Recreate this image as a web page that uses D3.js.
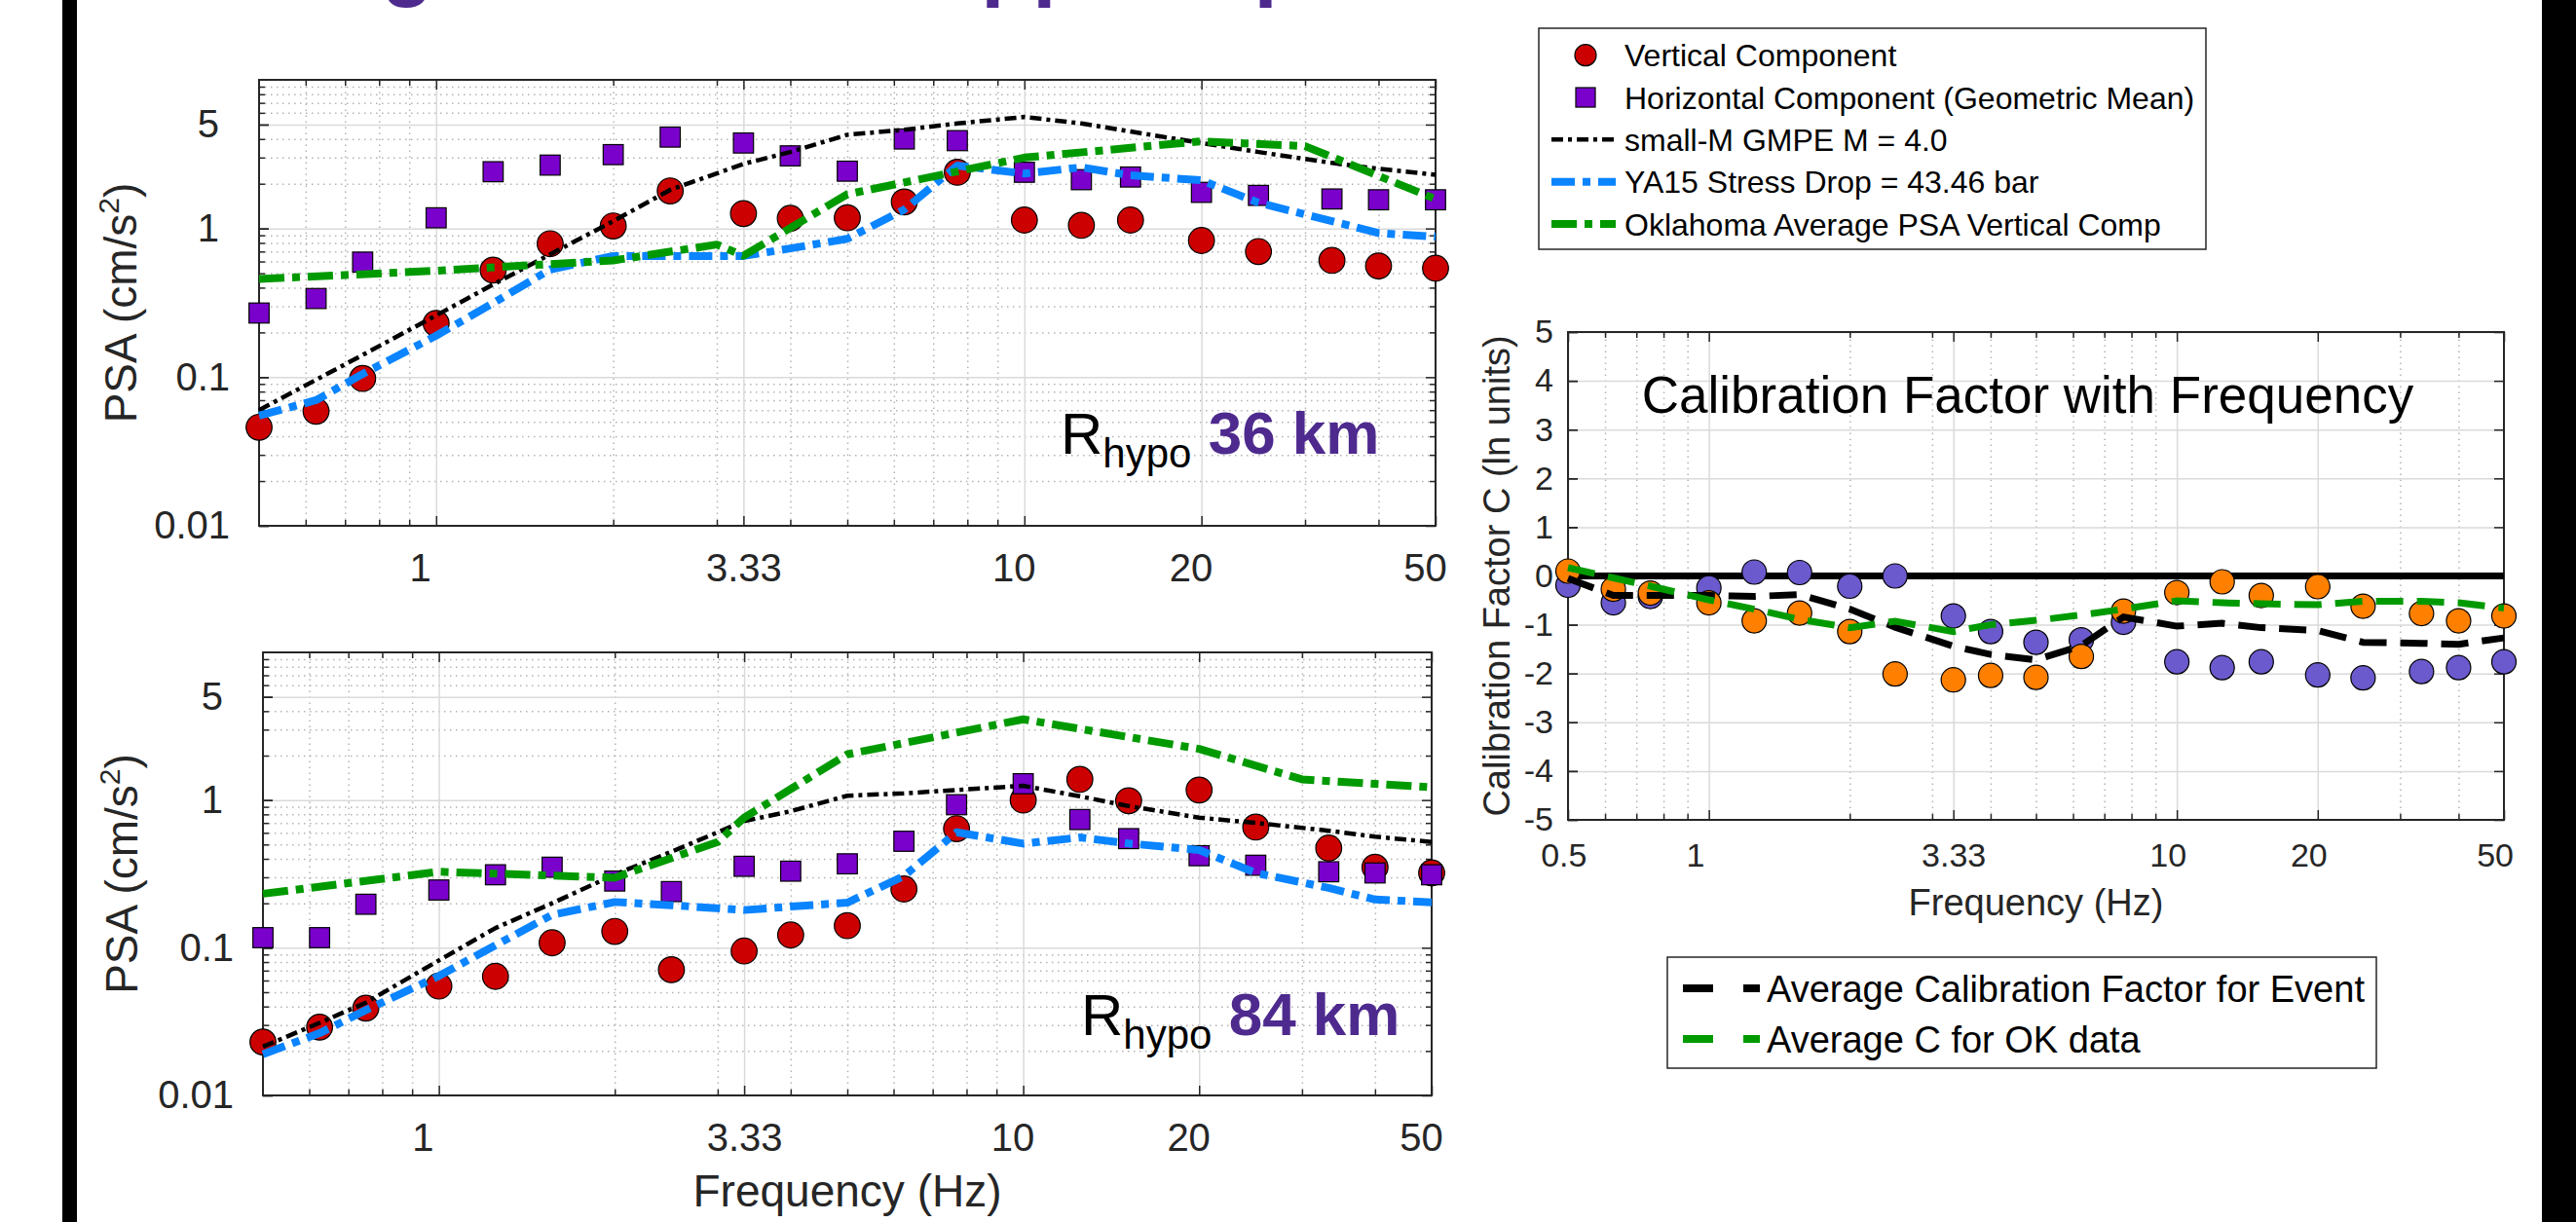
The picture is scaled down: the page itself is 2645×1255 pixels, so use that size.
<!DOCTYPE html>
<html>
<head>
<meta charset="utf-8">
<script src="https://cdn.jsdelivr.net/npm/d3@7"></script>
<style>
  body { margin: 0; background: #fff; }
  svg text { font-family: "Liberation Sans", Arial, Helvetica, sans-serif; white-space: pre; }
</style>
</head>
<body>
<svg id="fig" width="2645" height="1255"></svg>
<script>
// frequencies (Hz) of the event spectra
var freq = [0.5, 0.625, 0.75, 1, 1.25, 1.5625, 2, 2.5, 3.33, 4, 5, 6.25, 7.69, 10, 12.5, 15.15, 20, 25, 33.33, 40, 50];

// station at 36 km
var vert36  = [0.046, 0.059, 0.098, 0.23, 0.525, 0.79, 1.04, 1.79, 1.26, 1.17, 1.18, 1.51, 2.39, 1.14, 1.05, 1.14, 0.83, 0.70, 0.61, 0.56, 0.54];
var horiz36 = [0.27, 0.338, 0.594, 1.18, 2.41, 2.67, 3.14, 4.12, 3.76, 3.08, 2.43, 4.0, 3.9, 2.39, 2.13, 2.22, 1.75, 1.67, 1.58, 1.56, 1.56];
var gmpe36  = [0.06, 0.096, 0.141, 0.26, 0.42, 0.67, 1.12, 1.82, 2.72, 3.27, 4.27, 4.61, 5.09, 5.63, 5.09, 4.49, 3.76, 3.27, 2.76, 2.52, 2.3];
var ya36    = [0.055, 0.07, 0.105, 0.19, 0.315, 0.53, 0.653, 0.653, 0.653, 0.734, 0.853, 1.34, 2.65, 2.34, 2.58, 2.28, 2.11, 1.49, 1.12, 0.93, 0.88];

// station at 84 km
var vert84  = [0.023, 0.029, 0.039, 0.055, 0.064, 0.108, 0.129, 0.071, 0.095, 0.122, 0.141, 0.25, 0.64, 1.0, 1.38, 0.99, 1.17, 0.656, 0.473, 0.351, 0.321];
var horiz84 = [0.117, 0.117, 0.197, 0.246, 0.312, 0.351, 0.283, 0.24, 0.356, 0.33, 0.37, 0.526, 0.93, 1.29, 0.738, 0.548, 0.42, 0.362, 0.327, 0.321, 0.312];
var gmpe84  = [0.0214, 0.031, 0.0425, 0.082, 0.136, 0.2, 0.313, 0.447, 0.72, 0.84, 1.07, 1.11, 1.17, 1.25, 1.06, 0.91, 0.76, 0.70, 0.62, 0.565, 0.52];
var ya84    = [0.019, 0.0264, 0.0378, 0.0644, 0.104, 0.167, 0.204, 0.194, 0.18, 0.19, 0.202, 0.306, 0.605, 0.507, 0.558, 0.508, 0.459, 0.321, 0.254, 0.212, 0.203];

// Oklahoma average PSA (vertical)
var okFreq = [0.5, 1, 2, 3, 3.33, 5, 10, 20, 30, 50];
var ok36   = [0.457, 0.52, 0.61, 0.78, 0.656, 1.7, 3.0, 3.86, 3.58, 1.58];
var ok84   = [0.232, 0.327, 0.298, 0.52, 0.76, 2.04, 3.52, 2.22, 1.38, 1.22];

// calibration factor C (ln units)
var calVert  = [-0.19, -0.55, -0.42, -0.245, 0.08, 0.07, -0.21, 0.0, -0.82, -1.14, -1.36, -1.31, -0.95, -1.76, -1.88, -1.76, -2.03, -2.09, -1.96, -1.88, -1.76];
var calHoriz = [0.1, -0.27, -0.35, -0.55, -0.92, -0.76, -1.14, -2.01, -2.13, -2.04, -2.08, -1.65, -0.72, -0.34, -0.12, -0.4, -0.22, -0.62, -0.77, -0.92, -0.82];
var calEvent = [-0.05, -0.40, -0.40, -0.40, -0.42, -0.38, -0.68, -1.05, -1.44, -1.61, -1.72, -1.43, -0.84, -1.03, -0.97, -1.06, -1.12, -1.36, -1.38, -1.40, -1.27];
var calOK    = [0.17, -0.04, -0.21, -0.49, -0.68, -0.89, -1.06, -0.93, -1.14, -1.0, -0.91, -0.8, -0.68, -0.51, -0.55, -0.57, -0.59, -0.52, -0.52, -0.55, -0.66];
var calZero  = [0, 0];
var calZeroFreq = [0.5, 50];

// ticks (labels keep MATLAB's trailing blanks)
var psaTicks = [0.01, 0.1, 1, 5];
var psaTickLabels = ["0.01", "0.1", "1 ", "5 "];
var freqTicks = [1, 3.33, 10, 20, 50];
var freqTickLabels = ["1", "3.33", "10", "20", "50"];
var calFreqTicks = [0.5, 1, 3.33, 10, 20, 50];
var calFreqTickLabels = ["0.5", "1", "3.33", "10", "20", "50"];
var calTicks = [-5, -4, -3, -2, -1, 0, 1, 2, 3, 4, 5];
var calTickLabels = ["-5", "-4", "-3", "-2", "-1", "0", "1", "2", "3", "4", "5"];

var legendNames = ["Vertical Component", "Horizontal Component (Geometric Mean)", "small-M GMPE M = 4.0", "YA15 Stress Drop = 43.46 bar", "Oklahoma Average PSA Vertical Comp"];
var calLegendNames = ["Average Calibration Factor for Event", "Average C for OK data"];

var ink = "#262626";
var red = "#cc0000", violet = "#7a00cc", blue = "#0a84ff", green = "#009a00";
var slate = "#6a5acd", orange = "#ff8000", plum = "#4e2a8e";
var styles = {
    gmpe: {color: "#000", width: 4.5, dash: "12,5,4,5"},
    ya:   {color: blue, width: 8, dash: "24,8,8,8"},
    ok:   {color: green, width: 8, dash: "26,8,8,8"}
};

var svg = d3.select("#fig");

// MATLAB char-matrix style labels: padded with trailing blanks
function padLabels(arr) {
    var n = d3.max(arr, function (s) { return s.length; });
    return arr.map(function (s) { return s.padEnd(n, " "); });
}
function near(a, b) { return Math.abs(a - b) < 1e-6 * Math.max(1, Math.abs(b)); }
function notIn(list) { return function (t) { return !list.some(function (m) { return near(t, m); }); }; }

function cleanAxis(sel, stroke, width) {
    sel.select(".domain").remove();
    sel.selectAll(".tick line").attr("stroke", stroke).attr("stroke-width", width);
}

function drawFrame(g, x, y, o) {
    var w = o.right - o.left, h = o.bottom - o.top;
    // minor grid
    g.append("g").attr("transform", "translate(0," + o.bottom + ")")
        .call(d3.axisBottom(x).tickValues(o.minorX).tickSize(-h).tickFormat(""))
        .call(cleanAxis, "#b4b4b4", 1.5)
        .selectAll(".tick line").attr("stroke-dasharray", "1.5,4.5");
    if (o.minorY) {
        g.append("g").attr("transform", "translate(" + o.left + ",0)")
            .call(d3.axisLeft(y).tickValues(o.minorY).tickSize(-w).tickFormat(""))
            .call(cleanAxis, "#b4b4b4", 1.5)
            .selectAll(".tick line").attr("stroke-dasharray", "1.5,4.5");
    }
    // major grid
    g.append("g").attr("transform", "translate(0," + o.bottom + ")")
        .call(d3.axisBottom(x).tickValues(o.xTicks).tickSize(-h).tickFormat(""))
        .call(cleanAxis, "#dadada", 1.5);
    g.append("g").attr("transform", "translate(" + o.left + ",0)")
        .call(d3.axisLeft(y).tickValues(o.yTicks).tickSize(-w).tickFormat(""))
        .call(cleanAxis, "#dadada", 1.5);

    // inner tick marks on all four sides
    [["axisBottom", o.bottom], ["axisTop", o.top]].forEach(function (a) {
        g.append("g").attr("transform", "translate(0," + a[1] + ")")
            .call(d3[a[0]](x).tickValues(o.minorX).tickSize(-6).tickFormat(""))
            .call(cleanAxis, ink, 1.5);
    });
    [["axisLeft", o.left], ["axisRight", o.right]].forEach(function (a) {
        if (o.minorY) {
            g.append("g").attr("transform", "translate(" + a[1] + ",0)")
                .call(d3[a[0]](y).tickValues(o.minorY).tickSize(-6).tickFormat(""))
                .call(cleanAxis, ink, 1.5);
        }
        g.append("g").attr("transform", "translate(" + a[1] + ",0)")
            .call(d3[a[0]](y).tickValues(o.yTicks).tickSize(-10).tickFormat(""))
            .call(cleanAxis, ink, 1.5);
    });
    g.append("g").attr("transform", "translate(0," + o.top + ")")
        .call(d3.axisTop(x).tickValues(o.xTicks).tickSize(-10).tickFormat(""))
        .call(cleanAxis, ink, 1.5);

    // labelled axes
    var xl = padLabels(o.xLabels), yl = o.yLabels;
    g.append("g").attr("transform", "translate(0," + o.bottom + ")")
        .call(d3.axisBottom(x).tickValues(o.xTicks).tickSize(-10).tickPadding(o.xPad)
            .tickFormat(function (d, i) { return xl[i]; }))
        .call(cleanAxis, ink, 1.5)
        .selectAll("text").attr("fill", ink).attr("font-size", o.tickFont).attr("font-family", null);
    g.append("g").attr("transform", "translate(" + o.left + ",0)")
        .call(d3.axisLeft(y).tickValues(o.yTicks).tickSize(-10).tickPadding(o.yPad)
            .tickFormat(function (d, i) { return yl[i]; }))
        .call(cleanAxis, ink, 1.5)
        .selectAll("text").attr("fill", ink).attr("font-size", o.tickFont).attr("font-family", null);

    g.append("rect").attr("x", o.left).attr("y", o.top).attr("width", w).attr("height", h)
        .attr("fill", "none").attr("stroke", ink).attr("stroke-width", 2);
}

function psaPanel(o) {
    var x = d3.scaleLog().domain([0.5, 50]).range([o.left, o.right]);
    var y = d3.scaleLog().domain([0.01, 10]).range([o.bottom, o.top]);
    var g = svg.append("g");
    drawFrame(g, x, y, {
        left: o.left, right: o.right, top: o.top, bottom: o.bottom,
        minorX: x.ticks().filter(notIn(freqTicks.concat([0.5, 50]))),
        minorY: y.ticks().filter(notIn(psaTicks.concat([10]))),
        xTicks: freqTicks, xLabels: freqTickLabels,
        yTicks: psaTicks, yLabels: psaTickLabels,
        xPad: 29, yPad: 30, tickFont: 40
    });

    g.append("g").selectAll("circle").data(d3.zip(freq, o.vert)).join("circle")
        .attr("cx", function (d) { return x(d[0]); }).attr("cy", function (d) { return y(d[1]); })
        .attr("r", 13.3).attr("fill", red).attr("stroke", "#000").attr("stroke-width", 1.2);
    g.append("g").selectAll("rect").data(d3.zip(freq, o.horiz)).join("rect")
        .attr("x", function (d) { return x(d[0]) - 10.3; }).attr("y", function (d) { return y(d[1]) - 10.3; })
        .attr("width", 20.6).attr("height", 20.6).attr("fill", violet).attr("stroke", "#000").attr("stroke-width", 1.2);

    var line = d3.line().x(function (d) { return x(d[0]); }).y(function (d) { return y(d[1]); });
    [[freq, o.gmpe, styles.gmpe], [freq, o.ya, styles.ya], [okFreq, o.ok, styles.ok]].forEach(function (s) {
        g.append("path").datum(d3.zip(s[0], s[1])).attr("d", line)
            .attr("fill", "none").attr("stroke", s[2].color).attr("stroke-width", s[2].width)
            .attr("stroke-dasharray", s[2].dash).attr("stroke-linejoin", "round");
    });

    // Rhypo annotation
    var t = g.append("text").attr("x", o.labelX).attr("y", o.labelY).attr("fill", "#000");
    t.append("tspan").attr("font-size", 60).text("R");
    t.append("tspan").attr("font-size", 42).attr("dy", 14).text("hypo");
    t.append("tspan").attr("font-size", 62).attr("font-weight", "bold").attr("fill", plum).attr("dy", -14).text(" " + o.dist);

    // y label
    var yt = g.append("text").attr("transform", "translate(" + o.ylabX + "," + ((o.top + o.bottom) / 2) + ") rotate(-90)")
        .attr("text-anchor", "middle").attr("font-size", 46).attr("fill", ink);
    yt.append("tspan").text("PSA (cm/s");
    yt.append("tspan").attr("font-size", 30).attr("dy", -18).text("2");
    yt.append("tspan").attr("dy", 18).text(")");

    if (o.xlabel) {
        g.append("text").attr("x", (o.left + o.right) / 2).attr("y", o.bottom + 114)
            .attr("text-anchor", "middle").attr("font-size", 46).attr("fill", ink).text("Frequency (Hz)");
    }
}

// page decorations: cut-off slide title and side bars
svg.append("text").attr("x", 142).attr("y", -10).attr("font-size", 87).attr("font-weight", "bold")
    .attr("fill", plum).text("Testing Calibration Applied per Event");
svg.append("rect").attr("x", 64).attr("y", 0).attr("width", 15).attr("height", 1255).attr("fill", "#000");
svg.append("rect").attr("x", 2610).attr("y", 0).attr("width", 35).attr("height", 1255).attr("fill", "#000");

psaPanel({left: 266, right: 1474, top: 82, bottom: 540,
    vert: vert36, horiz: horiz36, gmpe: gmpe36, ya: ya36, ok: ok36,
    dist: "36 km", labelX: 1089, labelY: 466, ylabX: 140, xlabel: false});
psaPanel({left: 270, right: 1470, top: 670, bottom: 1125,
    vert: vert84, horiz: horiz84, gmpe: gmpe84, ya: ya84, ok: ok84,
    dist: "84 km", labelX: 1110, labelY: 1063, ylabX: 141, xlabel: true});

// calibration factor panel
(function () {
    var o = {left: 1610, right: 2571, top: 341, bottom: 842};
    var x = d3.scaleLog().domain([0.5, 50]).range([o.left, o.right]);
    var y = d3.scaleLinear().domain([-5, 5]).range([o.bottom, o.top]);
    var g = svg.append("g");
    drawFrame(g, x, y, {
        left: o.left, right: o.right, top: o.top, bottom: o.bottom,
        minorX: x.ticks().filter(notIn(calFreqTicks)),
        minorY: null,
        xTicks: calFreqTicks, xLabels: calFreqTickLabels,
        yTicks: calTicks, yLabels: calTickLabels,
        xPad: 24, yPad: 15, tickFont: 34
    });

    var line = d3.line().x(function (d) { return x(d[0]); }).y(function (d) { return y(d[1]); });
    g.append("path").datum(d3.zip(calZeroFreq, calZero)).attr("d", line)
        .attr("stroke", "#000").attr("stroke-width", 7).attr("fill", "none");

    [[calVert, slate], [calHoriz, orange]].forEach(function (s) {
        g.append("g").selectAll("circle").data(d3.zip(freq, s[0])).join("circle")
            .attr("cx", function (d) { return x(d[0]); }).attr("cy", function (d) { return y(d[1]); })
            .attr("r", 12.5).attr("fill", s[1]).attr("stroke", "#000").attr("stroke-width", 1.2);
    });
    [[calEvent, "#000"], [calOK, green]].forEach(function (s) {
        g.append("path").datum(d3.zip(freq, s[0])).attr("d", line)
            .attr("fill", "none").attr("stroke", s[1]).attr("stroke-width", 7)
            .attr("stroke-dasharray", "28,14");
    });

    g.append("text").attr("x", 2082).attr("y", 424).attr("text-anchor", "middle")
        .attr("font-size", 53).attr("fill", "#000").text("Calibration Factor with Frequency");
    g.append("text").attr("x", (o.left + o.right) / 2).attr("y", 940).attr("text-anchor", "middle")
        .attr("font-size", 38).attr("fill", ink).text("Frequency (Hz)");
    g.append("text").attr("transform", "translate(1550," + ((o.top + o.bottom) / 2) + ") rotate(-90)")
        .attr("text-anchor", "middle").attr("font-size", 38).attr("fill", ink)
        .text("Calibration Factor C (ln units)");
})();

// legend for the PSA panels
(function () {
    var g = svg.append("g");
    g.append("rect").attr("x", 1580).attr("y", 29).attr("width", 685).attr("height", 227)
        .attr("fill", "#fff").attr("stroke", ink).attr("stroke-width", 1.5);
    var rowY = d3.scalePoint().domain(legendNames).range([56.7, 230]);
    legendNames.forEach(function (name, i) {
        var cy = rowY(name);
        if (i === 0) {
            g.append("circle").attr("cx", 1628).attr("cy", cy).attr("r", 11)
                .attr("fill", red).attr("stroke", "#000").attr("stroke-width", 1.2);
        } else if (i === 1) {
            g.append("rect").attr("x", 1618).attr("y", cy - 10).attr("width", 20).attr("height", 20)
                .attr("fill", violet).attr("stroke", "#000").attr("stroke-width", 1.2);
        } else {
            var s = [styles.gmpe, styles.ya, styles.ok][i - 2];
            g.append("line").attr("x1", 1593).attr("x2", 1659).attr("y1", cy).attr("y2", cy)
                .attr("stroke", s.color).attr("stroke-width", s.width).attr("stroke-dasharray", s.dash);
        }
        g.append("text").attr("x", 1668).attr("y", cy).attr("dy", "0.36em")
            .attr("font-size", 32).attr("fill", "#000").text(name);
    });
})();

// legend for the calibration panel
(function () {
    var g = svg.append("g");
    g.append("rect").attr("x", 1712).attr("y", 983).attr("width", 728).attr("height", 114)
        .attr("fill", "#fff").attr("stroke", ink).attr("stroke-width", 1.5);
    var rowY = d3.scalePoint().domain(calLegendNames).range([1015, 1067]);
    [["#000"], [green]].forEach(function (s, i) {
        var cy = rowY(calLegendNames[i]);
        g.append("line").attr("x1", 1728).attr("x2", 1807).attr("y1", cy).attr("y2", cy)
            .attr("stroke", s[0]).attr("stroke-width", 8).attr("stroke-dasharray", "31,31");
        g.append("text").attr("x", 1814).attr("y", cy).attr("dy", "0.36em")
            .attr("font-size", 38).attr("fill", "#000").text(calLegendNames[i]);
    });
})();
</script>
</body>
</html>
